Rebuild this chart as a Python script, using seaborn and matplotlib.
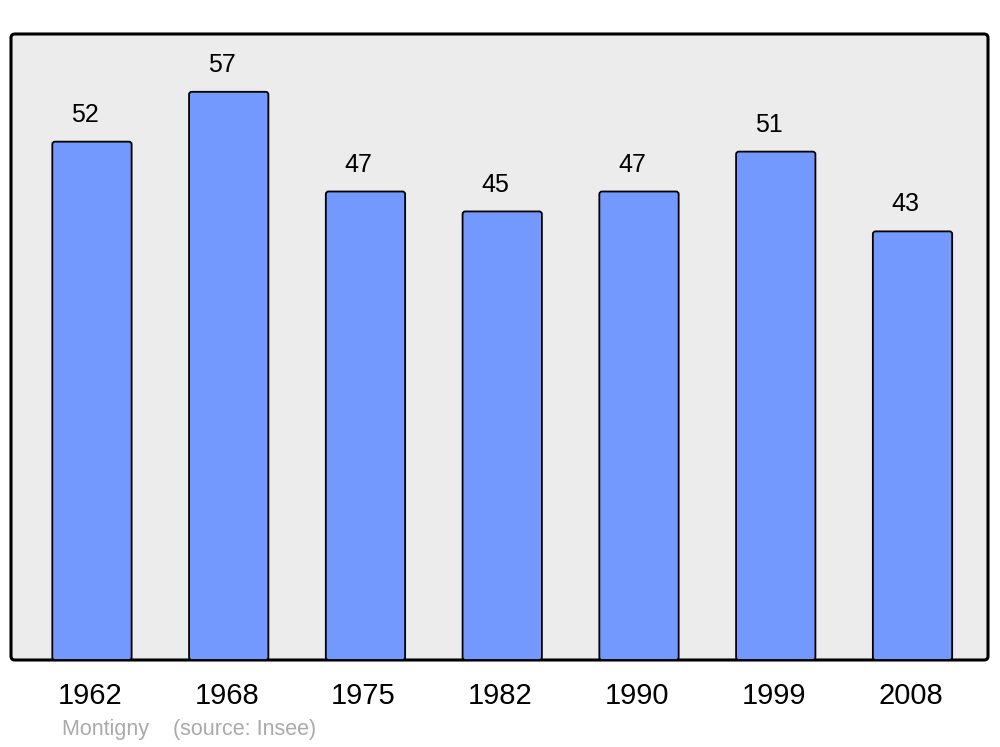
import matplotlib
matplotlib.use("Agg")
import matplotlib.pyplot as plt
from matplotlib.patches import FancyBboxPatch
from matplotlib.transforms import ScaledTranslation
import seaborn as sns
import pandas as pd

years = ["1962", "1968", "1975", "1982", "1990", "1999", "2008"]
population = [52, 57, 47, 45, 47, 51, 43]
footer = "Montigny    (source: Insee)"

sns.set_theme(style="white")
plt.rcParams["font.family"] = ["Liberation Sans", "DejaVu Sans"]

df = pd.DataFrame({"year": years, "pop": population})

fig = plt.figure(figsize=(10, 7.47), dpi=100)
ax = fig.add_axes([0.011, 1 - 660 / 747, 0.977, (660 - 34) / 747])
ax.set_facecolor("none")

# rounded background frame
frame = FancyBboxPatch((0, 0), 1, 1, boxstyle="round,pad=0,rounding_size=0.004",
                       mutation_aspect=977 / 626, transform=ax.transAxes,
                       facecolor="#ececec", edgecolor="black", linewidth=2.2,
                       clip_on=False, zorder=0)
ax.add_patch(frame)

sns.barplot(data=df, x="year", y="pop", color="#7399ff", saturation=1,
            width=0.58, edgecolor="black", linewidth=1.3, ax=ax)

ax.set_xlim(-0.592, 6.552)
ax.set_ylim(0, 62.8)

# round bar corners slightly
for p in list(ax.patches):
    if p is frame:
        continue
    x0, y0 = p.get_x(), p.get_y()
    w, h = p.get_width(), p.get_height()
    rb = FancyBboxPatch((x0, y0), w, h, boxstyle="round,pad=0,rounding_size=0.02",
                        mutation_aspect=13.7, facecolor=p.get_facecolor(),
                        edgecolor="black", linewidth=1.3, zorder=2)
    p.set_visible(False)
    ax.add_patch(rb)

for i, v in enumerate(population):
    ax.text(i - 0.05, v + 2.7, str(v), ha="center", va="center", fontsize=18, color="black")

ax.set_yticks([])
ax.set_xlabel("")
ax.set_ylabel("")
ax.tick_params(axis="x", length=0, pad=16, labelsize=21, colors="black")
shift = ScaledTranslation(-2 / 100, 0, fig.dpi_scale_trans)
for lbl in ax.get_xticklabels():
    lbl.set_transform(lbl.get_transform() + shift)
for s in ax.spines.values():
    s.set_visible(False)

fig.text(0.062, 1 - 730 / 747, footer, ha="left", va="center", fontsize=15.5, color="#aaaaaa")

fig.savefig("out.png", dpi=100)
